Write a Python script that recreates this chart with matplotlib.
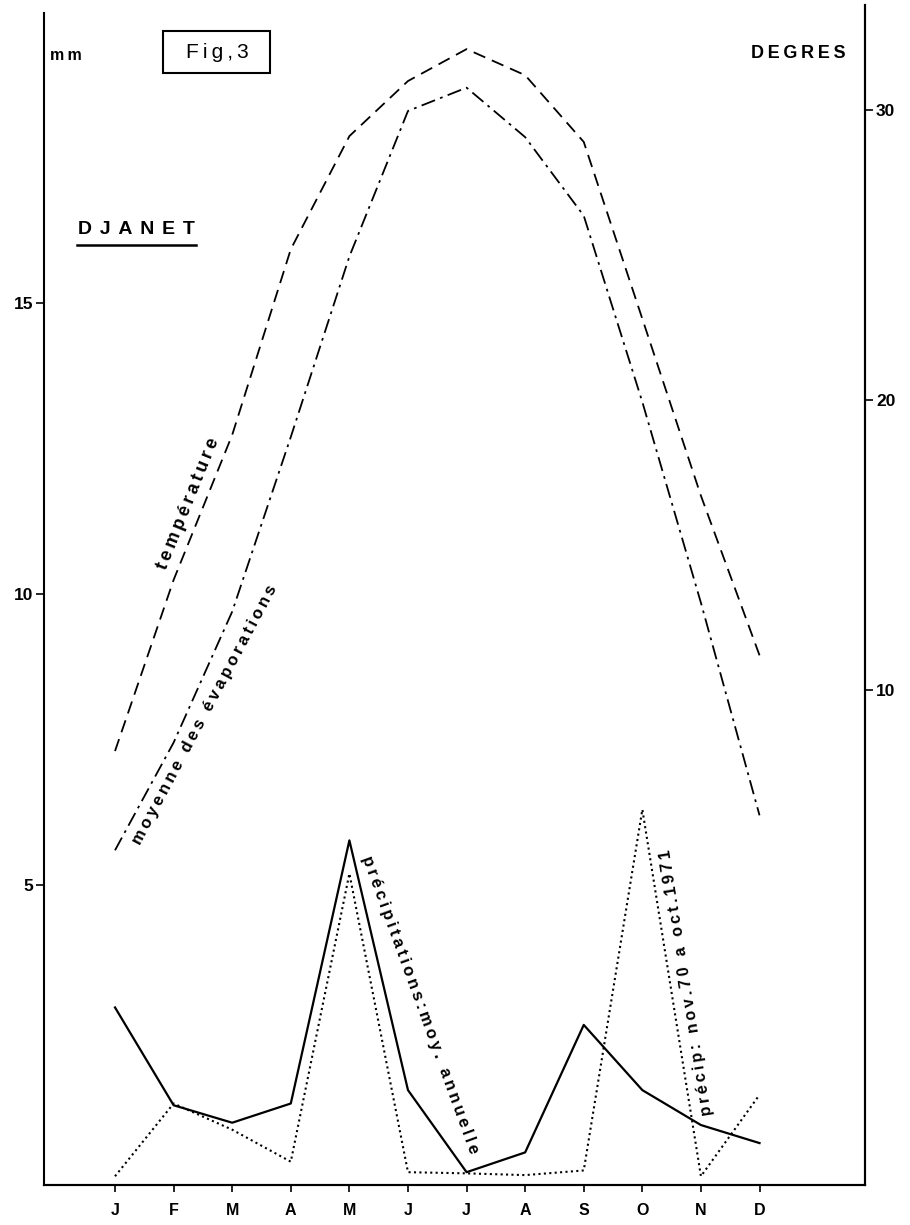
import matplotlib.pyplot as plt
from matplotlib.lines import Line2D
from matplotlib.patches import Rectangle

plt.rcParams['font.family'] = ['Liberation Sans', 'DejaVu Sans']

months = ['J', 'F', 'M', 'A', 'M', 'J', 'J', 'A', 'S', 'O', 'N', 'D']
temperature = [7.9, 13.8, 18.8, 25.2, 29.1, 31.0, 32.1, 31.2, 28.9, 22.8, 16.7, 11.2]   # degres
evaporation = [5.6, 7.45, 9.7, 12.7, 15.8, 18.3, 18.7, 17.85, 16.5, 13.3, 9.85, 6.2]   # mm
precip_moy = [2.9, 1.22, 0.92, 1.25, 5.77, 1.48, 0.07, 0.41, 2.6, 1.48, 0.88, 0.57]   # mm
precip_7071 = [0.0, 1.25, 0.8, 0.25, 5.2, 0.07, 0.05, 0.02, 0.1, 6.3, 0.0, 1.4]       # mm

x = list(range(1, 13))


def spaced(s, n=1):
    """ lettres espacees comme sur le dessin original """
    return ('\u2009' * n).join(s)


fig = plt.figure(figsize=(9.1, 12.25), dpi=100)
ax = fig.add_axes([44 / 910, 1 - 1185 / 1225, 821 / 910, 1180 / 1225])
ax2 = ax.twinx()

# evaporation et precipitations en mm (axe gauche)
ax.plot(x, evaporation, color='black', lw=1.3, linestyle=(0, (8, 3, 1.5, 3)))
ax.plot(x, precip_moy, color='black', lw=1.6, linestyle='-')
ax.plot(x, precip_7071, color='black', lw=1.5, linestyle=(0, (1, 1.6)))
# temperature en degres (axe droit)
ax2.plot(x, temperature, color='black', lw=1.3, linestyle=(0, (7, 4)))

ax.set_xlim(-0.212, 13.8)
ax.set_ylim(-0.15, 20.12)
ax2.set_ylim(2.007 * -0.15 - 6.76, 2.007 * 20.12 - 6.76)

ax.set_xticks(x)
ax.set_xticklabels(months, fontsize=11.5, fontweight='bold')
ax.set_yticks([5, 10, 15])
ax.set_yticklabels(['5', '10', '15'], fontsize=12.5, fontweight='bold')
ax2.set_yticks([10, 20, 30])
ax2.set_yticklabels(['10', '20', '30'], fontsize=12.5, fontweight='bold')
ax.tick_params(axis='x', length=5, width=1.2, pad=8)
ax.tick_params(axis='y', length=6, width=1.2, pad=2)
ax2.tick_params(axis='y', length=6, width=1.2, pad=2)

for a in (ax, ax2):
    a.spines['top'].set_visible(False)
    for s in ('left', 'right', 'bottom'):
        a.spines[s].set_linewidth(1.5)
ax.spines['left'].set_bounds(-0.15, 19.98)
ax2.spines['left'].set_visible(False)

# textes du cadre
fig.text(50 / 910, 1 - 55 / 1225, spaced('mm'), fontsize=11.5, fontweight='bold', va='center')
fig.add_artist(Rectangle((163 / 910, 1 - 73 / 1225), 107 / 910, 42 / 1225,
                         transform=fig.transFigure, fill=False, ec='black', lw=1.5))
fig.text(217 / 910, 1 - 53 / 1225, spaced('Fig,3'), fontsize=15, ha='center', va='center')
fig.text(798 / 910, 1 - 53 / 1225, spaced('DEGRES'), fontsize=13, fontweight='bold',
         ha='center', va='center')
fig.text(136 / 910, 1 - 229 / 1225, spaced('DJANET', 2), fontsize=14, fontweight='bold',
         ha='center', va='center')
fig.add_artist(Line2D([77 / 910, 196 / 910], [1 - 245 / 1225, 1 - 245 / 1225],
                      transform=fig.transFigure, color='black', lw=1.8))

# etiquettes des courbes
ax.text(2.26, 11.55, spaced('température'), fontsize=13, fontweight='bold', rotation=68,
        ha='center', va='center')
ax.text(2.54, 7.92, spaced('moyenne des évaporations'), fontsize=12, fontweight='bold',
        rotation=62, ha='center', va='center')
ax.text(6.2, 2.95, spaced('précipitations:moy. annuelle'), fontsize=12, fontweight='bold',
        rotation=-70, ha='center', va='center')
ax.text(10.75, 3.33, spaced('précip: nov.70 a oct.1971'), fontsize=11.5, fontweight='bold',
        rotation=99, ha='center', va='center')

plt.savefig('out.png', dpi=100)
